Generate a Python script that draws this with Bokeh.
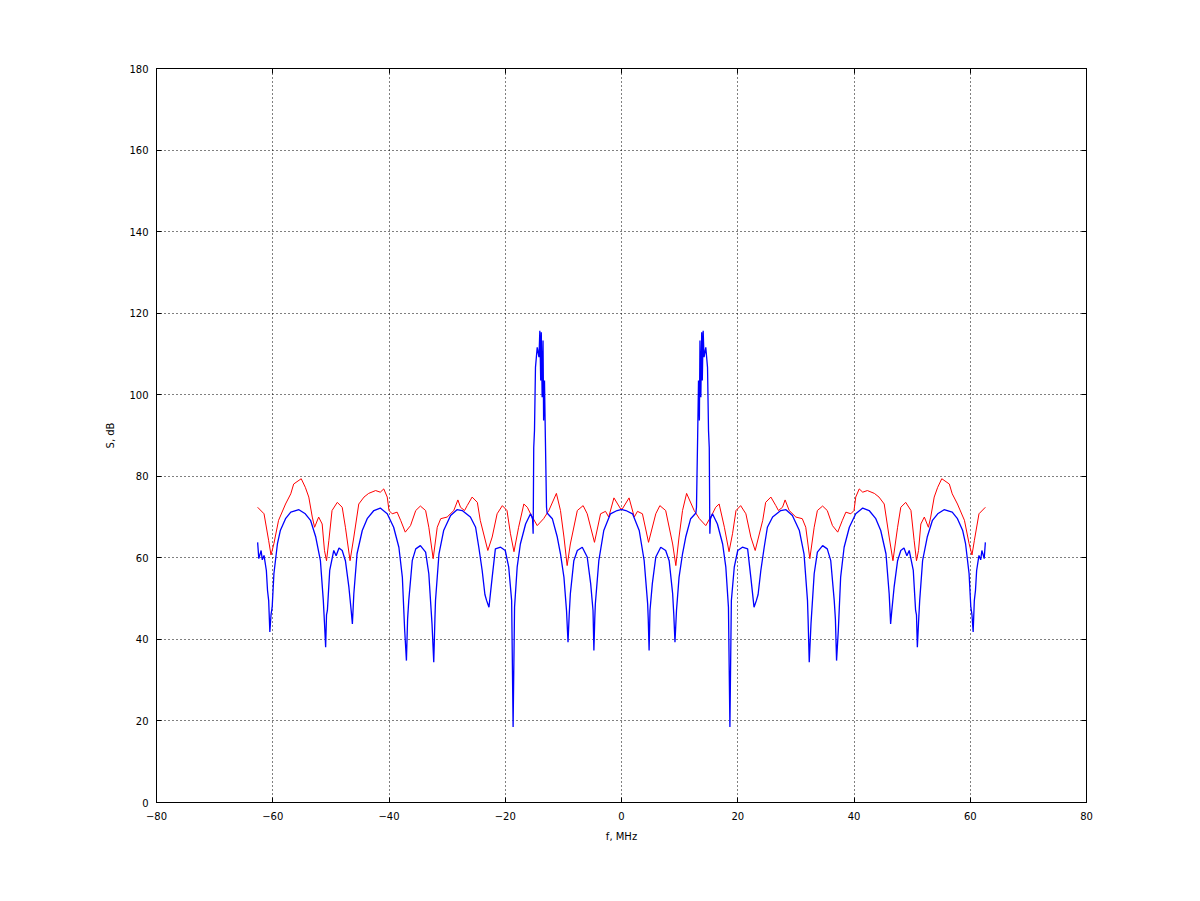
from bokeh.plotting import figure
from bokeh.models import FixedTicker, LinearAxis, Range1d
from bokeh.embed import file_html
from bokeh.resources import INLINE

# ---- data ----
x_ticks = [-80, -60, -40, -20, 0, 20, 40, 60, 80]
y_ticks = [0, 20, 40, 60, 80, 100, 120, 140, 160, 180]

red_f_left = [-62.6,-61.5,-60.7,-60.3,-59.8,-59.0,-57.8,-56.9,-56.4,-55.1,-54.4,-53.8,-53.2,-52.8,-52.1,-51.5,-51.1,-50.75,-50.35,-49.8,-48.9,-48.05,-47.5,-46.7,-46.05,-45.2,-44.3,-43.5,-42.3,-41.5,-40.9,-40.3,-40.0,-39.45,-38.6,-38.0,-37.2,-36.3,-35.4,-34.6,-33.7,-33.15,-32.4,-31.7,-31.1,-30.0,-28.85,-28.15,-27.7,-27.0,-26.55,-25.7,-24.8,-24.3,-23.0,-22.25,-21.4,-20.5,-19.7,-19.1,-18.5,-17.7,-16.8,-16.2,-15.65,-14.5,-13.4,-12.5,-11.2,-10.5,-9.9,-9.35,-8.8,-7.6,-6.6,-5.9,-4.65,-3.6,-2.75,-2.2,-1.3,-0.15]
red_db_left = [72.4,70.8,64.2,60.7,63.5,69.2,73.2,75.7,78.1,79.4,77.3,74.9,70.0,67.5,70.0,68.3,61.8,59.3,64.2,71.6,73.6,72.4,67.5,59.3,65.1,73.2,74.9,75.8,76.5,76.1,76.9,74.9,71.6,70.8,71.2,69.2,66.3,67.9,71.6,72.7,71.6,67.5,59.8,67.5,69.6,70.0,71.6,74.2,72.4,71.6,72.8,74.9,73.6,69.2,61.8,65.1,70.8,72.8,71.6,65.9,61.5,67.5,73.2,72.4,70.8,67.9,69.6,71.6,75.8,71.6,65.1,58.1,63.4,71.6,72.8,70.8,63.8,70.8,71.4,70.0,74.7,72.0]
red_f_right = [0.15,1.3,2.2,2.75,3.6,4.65,5.9,6.6,7.6,8.8,9.35,9.9,10.5,11.2,12.5,13.4,14.5,15.65,16.2,16.8,17.7,18.5,19.1,19.7,20.5,21.4,22.25,23.0,24.3,24.8,25.7,26.55,27.0,27.7,28.15,28.85,30.0,31.1,31.7,32.4,33.15,33.7,34.6,35.4,36.3,37.2,38.0,38.6,39.45,40.0,40.3,40.9,41.5,42.3,43.5,44.3,45.2,46.05,46.7,47.5,48.05,48.9,49.8,50.35,50.75,51.1,51.5,52.1,52.8,53.2,53.8,54.4,55.1,56.4,56.9,57.8,59.0,59.8,60.3,60.7,61.5,62.6]
red_db_right = [72.0,74.7,70.0,71.4,70.8,63.8,70.8,72.8,71.6,63.4,58.1,65.1,71.6,75.8,71.6,69.6,67.9,70.8,72.4,73.2,67.5,61.5,65.9,71.6,72.8,70.8,65.1,61.8,69.2,73.6,74.9,72.8,71.6,72.4,74.2,71.6,70.0,69.6,67.5,59.8,67.5,71.6,72.7,71.6,67.9,66.3,69.2,71.2,70.8,71.6,74.9,76.9,76.1,76.5,75.8,74.9,73.2,65.1,59.3,67.5,72.4,73.6,71.6,64.2,59.3,61.8,68.3,70.0,67.5,70.0,74.9,77.3,79.4,78.1,75.7,73.2,69.2,63.5,60.7,64.2,70.8,72.4]

blue_f_left = [-62.6,-62.4,-62.0,-61.8,-61.5,-61.1,-60.9,-60.7,-60.5,-60.3,-60.1,-59.8,-59.2,-58.7,-57.8,-56.9,-55.5,-54.4,-53.5,-52.6,-51.8,-51.3,-51.1,-50.9,-50.75,-50.6,-50.2,-49.5,-49.1,-48.6,-48.05,-47.5,-46.9,-46.5,-46.3,-46.05,-45.5,-44.6,-43.75,-42.6,-41.5,-40.3,-39.2,-38.3,-37.7,-37.3,-37.0,-36.8,-36.6,-36.0,-35.4,-34.6,-33.7,-33.15,-32.6,-32.3,-32.1,-32.0,-31.4,-30.6,-29.4,-28.3,-27.4,-26.0,-25.1,-24.55,-23.97,-23.5,-23.2,-22.8,-22.25,-21.7,-20.8,-20.0,-19.4,-18.9,-18.65,-18.4,-17.95,-17.4,-16.5,-15.65,-15.3,-15.2,-15.1,-14.97,-14.8,-14.5,-14.2,-14.05,-13.9,-13.8,-13.65,-13.5,-13.4,-13.25,-13.1,-12.9,-12.8,-11.9,-11.05,-10.5,-9.9,-9.46,-9.2,-9.0,-8.8,-8.2,-7.6,-6.75,-5.9,-5.3,-4.9,-4.75,-4.6,-4.5,-3.9,-3.05,-1.9,-0.75,-0.1]
blue_db_left = [63.8,59.8,61.8,59.5,60.6,56.9,52.0,49.5,41.8,46.0,47.9,56.1,63.4,66.7,69.6,71.2,71.8,70.8,69.2,65.1,59.3,49.5,44.0,38.1,46.0,47.1,56.9,61.8,60.5,62.4,61.8,59.3,52.8,47.0,43.8,51.2,61.0,66.7,69.6,71.6,72.2,70.8,67.5,62.6,55.2,42.2,34.8,45.0,49.5,59.3,62.2,63.0,61.4,56.1,43.8,34.4,45.0,49.5,61.0,66.7,70.4,71.8,71.6,70.0,67.5,62.6,56.9,51.0,49.5,47.9,55.2,62.2,62.6,61.8,57.7,49.5,18.5,47.9,57.7,63.4,68.3,70.8,69.5,65.9,87.0,91.2,106.7,111.6,109.2,115.7,103.5,115.3,99.4,113.3,93.7,103.5,89.6,72.4,71.0,69.6,65.1,61.0,55.2,47.1,39.3,46.0,51.2,59.3,61.8,62.6,60.2,53.6,47.1,37.3,45.0,48.7,59.3,66.7,70.8,71.6,71.8]
blue_f_right = [0.1,0.75,1.9,3.05,3.9,4.5,4.6,4.75,4.9,5.3,5.9,6.75,7.6,8.2,8.8,9.0,9.2,9.46,9.9,10.5,11.05,11.9,12.8,12.9,13.1,13.25,13.4,13.5,13.65,13.8,13.9,14.05,14.2,14.5,14.8,14.97,15.1,15.2,15.3,15.65,16.5,17.4,17.95,18.4,18.65,18.9,19.4,20.0,20.8,21.7,22.25,22.8,23.2,23.5,23.97,24.55,25.1,26.0,27.4,28.3,29.4,30.6,31.4,32.0,32.1,32.3,32.6,33.15,33.7,34.6,35.4,36.0,36.6,36.8,37.0,37.3,37.7,38.3,39.2,40.3,41.5,42.6,43.75,44.6,45.5,46.05,46.3,46.5,46.9,47.5,48.05,48.6,49.1,49.5,50.2,50.6,50.75,50.9,51.1,51.3,51.8,52.6,53.5,54.4,55.5,56.9,57.8,58.7,59.2,59.8,60.1,60.3,60.5,60.7,60.9,61.1,61.5,61.8,62.0,62.4,62.6]
blue_db_right = [71.8,71.6,70.8,66.7,59.3,48.7,45.0,37.3,47.1,53.6,60.2,62.6,61.8,59.3,51.2,46.0,39.3,47.1,55.2,61.0,65.1,69.6,71.0,72.4,89.6,103.5,93.7,113.3,99.4,115.3,103.5,115.7,109.2,111.6,106.7,91.2,87.0,65.9,69.5,70.8,68.3,63.4,57.7,47.9,18.5,49.5,57.7,61.8,62.6,62.2,55.2,47.9,49.5,51.0,56.9,62.6,67.5,70.0,71.6,71.8,70.4,66.7,61.0,49.5,45.0,34.4,43.8,56.1,61.4,63.0,62.2,59.3,49.5,45.0,34.8,42.2,55.2,62.6,67.5,70.8,72.2,71.6,69.6,66.7,61.0,51.2,43.8,47.0,52.8,59.3,61.8,62.4,60.5,61.8,56.9,47.1,46.0,38.1,44.0,49.5,59.3,65.1,69.2,70.8,71.8,71.2,69.6,66.7,63.4,56.1,47.9,46.0,41.8,49.5,52.0,56.9,60.6,59.5,61.8,59.8,63.8]

red_f = red_f_left + red_f_right
red_db = red_db_left + red_db_right
blue_f = blue_f_left + blue_f_right
blue_db = blue_db_left + blue_db_right

FONT = "DejaVu Sans"
W, H = 1184, 885

p = figure(width=W, height=H, output_backend="svg", toolbar_location=None,
           x_range=Range1d(-80, 80), y_range=Range1d(0, 180),
           min_border_left=156, min_border_right=98,
           min_border_top=68, min_border_bottom=83)
p.background_fill_color = "white"
p.border_fill_color = "white"
p.outline_line_color = "black"
p.outline_line_width = 1

p.line(red_f, red_db, line_color="#ff0000", line_width=1)
p.line(blue_f, blue_db, line_color="#0000ff", line_width=1.3)

def style_axis(ax, show_labels=True):
    ax.major_tick_in = 5
    ax.major_tick_out = 0
    ax.minor_tick_line_color = None
    ax.axis_line_color = "black"
    ax.major_tick_line_color = "black"
    ax.major_label_text_font = FONT
    ax.major_label_text_font_size = "10px"
    ax.major_label_text_color = "black" if show_labels else None
    ax.axis_label_text_font = FONT
    ax.axis_label_text_font_size = "10px"
    ax.axis_label_text_font_style = "normal"
    ax.axis_label_text_color = "black"

p.xaxis.ticker = FixedTicker(ticks=x_ticks)
p.yaxis.ticker = FixedTicker(ticks=y_ticks)
p.xaxis.axis_label = "f, MHz"
p.yaxis.axis_label = "S, dB"
p.xaxis.axis_label_standoff = 8
p.yaxis.axis_label_standoff = 10
p.xaxis.major_label_standoff = 9
p.yaxis.major_label_standoff = 8
style_axis(p.xaxis[0])
style_axis(p.yaxis[0])

top = LinearAxis(ticker=FixedTicker(ticks=x_ticks))
right = LinearAxis(ticker=FixedTicker(ticks=y_ticks))
style_axis(top, False)
style_axis(right, False)
top.major_label_text_font_size = "0px"
right.major_label_text_font_size = "0px"
p.add_layout(top, "above")
p.add_layout(right, "right")

p.xgrid.ticker = FixedTicker(ticks=x_ticks)
p.ygrid.ticker = FixedTicker(ticks=y_ticks)
for g in (p.xgrid[0], p.ygrid[0]):
    g.grid_line_color = "black"
    g.grid_line_dash = "1 3"
    g.grid_line_width = 1
    g.grid_line_alpha = 1.0

open("out.html", "w").write(file_html(p, INLINE))
